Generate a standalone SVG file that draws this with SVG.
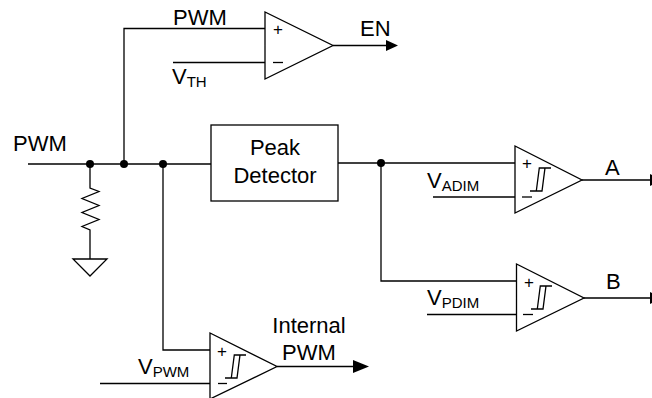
<svg xmlns="http://www.w3.org/2000/svg" width="652" height="398" viewBox="0 0 652 398">
<defs>
<style>
.w{fill:none;stroke:#000;stroke-width:1.3}
.t{fill:#fff;stroke:#000;stroke-width:1.3}
text{font-family:"Liberation Sans",Arial,sans-serif;font-size:22px;fill:#000}
.s{font-size:15px}
.p{font-size:17px}
</style>
<symbol id="hys" overflow="visible"><path class="w" d="M0 23H12L15 0H21M6.300 23L9.300 0H15"/></symbol>
</defs>
<rect width="652" height="398" fill="#fff"/>
<g id="connectors">
<path class="w" d="M28 164H211"/>
<path class="w" d="M124 164V28.500H265"/>
<path class="w" d="M173 62.500H265"/>
<path class="w" d="M333 45.500H387"/>
<polygon points="386,40 398,45.500 386,51"/>
<path class="w" d="M90 164V188L99 191.500 82 198.500 99 205.500 82 212.500 99 219.500 82 226.500 90 230V259"/>
<path class="w" d="M163 164V350H210"/>
<path class="w" d="M100 383.500H210"/>
<path class="w" d="M277 366.500H356"/>
<polygon points="353,360 369,366.500 353,373"/>
<path class="w" d="M338 163H515"/>
<path class="w" d="M381 163V281H516"/>
<path class="w" d="M433 197H515"/>
<path class="w" d="M427 314.500H516"/>
<path d="M582 180H650M584 298H650" fill="none" stroke="#000" stroke-width="1.5"/>
<polygon points="650,174 652,175 652,185 650,186"/>
<polygon points="650,292 652,293 652,303 650,304"/>
<circle cx="90" cy="164" r="4"/>
<circle cx="124" cy="164" r="4"/>
<circle cx="163" cy="164" r="4"/>
<circle cx="381" cy="163" r="4"/>
</g>
<g id="ground"><polygon class="t" points="73,259 107,259 90,276"/></g>
<g id="input-label"><text x="13" y="151">PWM</text></g>
<g id="peak-detector">
<rect class="t" x="211" y="125" width="127" height="76"/>
<text x="275" y="155" text-anchor="middle">Peak</text>
<text x="275" y="183" text-anchor="middle">Detector</text>
</g>
<g id="comp-en">
<polygon class="t" points="265,12 265,79 333,45.500"/>
<text class="p" x="273" y="35">+</text>
<path class="w" d="M273 62.500H283"/>
<text x="173" y="25">PWM</text>
<text x="172" y="84">V<tspan class="s" dy="3">TH</tspan></text>
<text x="360" y="36">EN</text>
</g>
<g id="comp-a">
<polygon class="t" points="515,146 515,213 582,180"/>
<text class="p" x="522" y="169">+</text>
<path class="w" d="M522 197H532"/>
<use href="#hys" x="530" y="168"/>
<text x="427" y="188">V<tspan class="s" dy="3">ADIM</tspan></text>
<text x="605" y="175">A</text>
</g>
<g id="comp-b">
<polygon class="t" points="516.500,264 516.500,331 584,298"/>
<text class="p" x="524" y="288">+</text>
<path class="w" d="M523 314.500H533"/>
<use href="#hys" x="531" y="286"/>
<text x="427" y="305">V<tspan class="s" dy="3">PDIM</tspan></text>
<text x="606" y="289">B</text>
</g>
<g id="comp-pwm">
<polygon class="t" points="210,333 210,399 277,366.500"/>
<text class="p" x="217" y="357">+</text>
<path class="w" d="M218 383.500H227"/>
<use href="#hys" x="225" y="355"/>
<text x="138" y="374">V<tspan class="s" dy="3">PWM</tspan></text>
<text x="309" y="333" text-anchor="middle">Internal</text>
<text x="309" y="360" text-anchor="middle">PWM</text>
</g>
</svg>
